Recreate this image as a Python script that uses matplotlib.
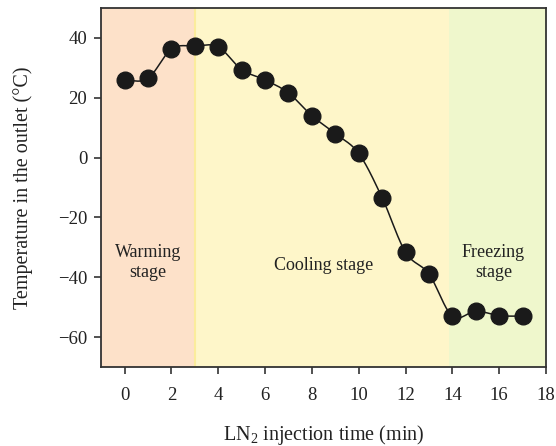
import matplotlib
matplotlib.use('Agg')
import matplotlib.pyplot as plt
import numpy as np

plt.rcParams['font.family'] = ['Liberation Serif', 'DejaVu Serif']
plt.rcParams['mathtext.fontset'] = 'custom'
plt.rcParams['mathtext.rm'] = 'Liberation Serif'

# outlet temperature readings, one per minute
time_min = [0, 1, 2, 3, 4, 5, 6, 7, 8, 9, 10, 11, 12, 13, 14, 15, 16, 17]
temp_c = [25.8, 26.5, 36.3, 37.3, 37.0, 29.4, 26.0, 21.6, 14.0, 8.0, 1.4,
          -13.4, -31.6, -38.9, -53.0, -51.3, -52.8, -53.0]

stage_names = ['Warming\nstage', 'Cooling stage', 'Freezing\nstage']
stage_edges = [-1, 3, 13.85, 18]
stage_colors = ['#fde1c9', '#fef6c9', '#eff7cc']


def smooth_curve(x, y, n=30):
    # cubic Hermite through the readings
    x = np.asarray(x, float)
    y = np.asarray(y, float)
    m = np.gradient(y, x)
    xs, ys = [], []
    for i in range(len(x) - 1):
        h = x[i + 1] - x[i]
        t = np.linspace(0, 1, n, endpoint=False)
        h00 = 2 * t**3 - 3 * t**2 + 1
        h10 = t**3 - 2 * t**2 + t
        h01 = -2 * t**3 + 3 * t**2
        h11 = t**3 - t**2
        xs.append(x[i] + t * h)
        ys.append(h00 * y[i] + h10 * h * m[i] + h01 * y[i + 1] + h11 * h * m[i + 1])
    xs.append([x[-1]])
    ys.append([y[-1]])
    return np.concatenate(xs), np.concatenate(ys)


fig = plt.figure(figsize=(5.56, 4.46), dpi=100)
ax = fig.add_axes([0.182, 0.177, 0.8, 0.805])

for i, c in enumerate(stage_colors):
    ax.axvspan(stage_edges[i], stage_edges[i + 1], color=c, lw=0, zorder=0)
ax.axvline(3, color='#fbec9c', lw=1.5, zorder=0.5)

xs, ys = smooth_curve(time_min, temp_c)
ax.plot(xs, ys, color='#1a1a1a', lw=1.1, zorder=2)
ax.plot(time_min, temp_c, 'o', color='#1a1a1a', ms=12, zorder=3)

ax.text(1.0, -35, stage_names[0], ha='center', va='center', fontsize=13, color='#222222')
ax.text(8.5, -36, stage_names[1], ha='center', va='center', fontsize=13, color='#222222')
ax.text(15.75, -35, stage_names[2], ha='center', va='center', fontsize=13, color='#222222')

ax.set_xlim(-1, 18)
ax.set_ylim(-70, 50)
ax.set_xticks(range(0, 19, 2))
ax.set_yticks(range(-60, 41, 20))
ax.set_yticklabels([str(v).replace('-', '\u2212') for v in range(-60, 41, 20)])
ax.tick_params(direction='out', length=5, width=1.2, colors='#333333',
               labelsize=13.5, labelcolor='#222222')
ax.tick_params(axis='x', pad=9)
ax.tick_params(axis='y', pad=5)
for s in ax.spines.values():
    s.set_color('#333333')
    s.set_linewidth(1.3)

ax.set_xlabel(r'LN$_\mathregular{2}$ injection time (min)', fontsize=14.5, color='#222222', labelpad=14)
ax.set_ylabel('Temperature in the outlet (\u00b0C)', fontsize=14.5, color='#222222', labelpad=18)

fig.savefig('out.png', dpi=100)
